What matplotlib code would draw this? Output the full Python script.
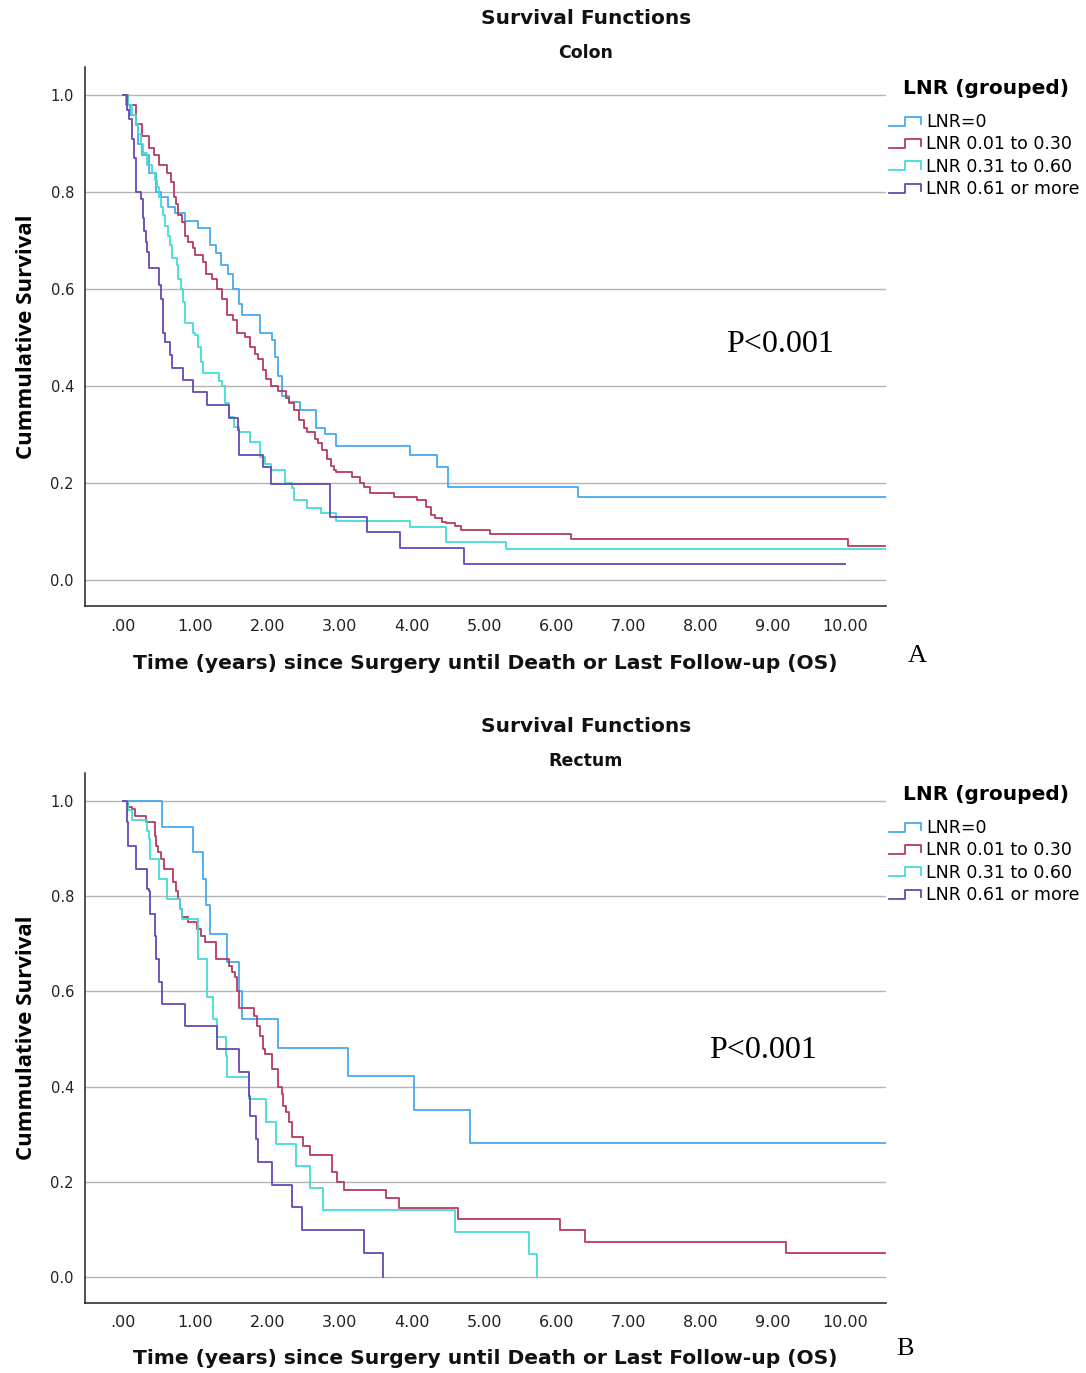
import matplotlib
matplotlib.use('Agg')
import matplotlib.pyplot as plt
from matplotlib.legend_handler import HandlerBase
from matplotlib.lines import Line2D

# ---- data: (time, survival) step points ----
labels = ['LNR=0', 'LNR 0.01 to 0.30', 'LNR 0.31 to 0.60', 'LNR 0.61 or more']
colors = ['#45a9f2', '#b53a62', '#43dcd4', '#6847b4']
xticks = [0, 1, 2, 3, 4, 5, 6, 7, 8, 9, 10]
xtick_labels = ['.00', '1.00', '2.00', '3.00', '4.00', '5.00', '6.00', '7.00', '8.00', '9.00', '10.00']
yticks = [0.0, 0.2, 0.4, 0.6, 0.8, 1.0]

# Colon
colon_t0 = [0, 0.04, 0.1, 0.17, 0.2, 0.26, 0.35, 0.45, 0.52, 0.62, 0.72, 0.86, 1.03, 1.2, 1.28,
            1.35, 1.45, 1.52, 1.6, 1.65, 1.9, 2.06, 2.1, 2.15, 2.2, 2.3, 2.45, 2.67, 2.8, 2.95,
            3.97, 4.35, 4.5, 6.3]
colon_s0 = [1.0, 0.98, 0.96, 0.938, 0.90, 0.876, 0.84, 0.80, 0.79, 0.77, 0.757, 0.74, 0.726, 0.69, 0.675,
            0.65, 0.63, 0.60, 0.57, 0.546, 0.51, 0.495, 0.46, 0.42, 0.38, 0.367, 0.35, 0.313, 0.30, 0.276,
            0.258, 0.233, 0.192, 0.17]
colon_t1 = [0, 0.07, 0.17, 0.26, 0.35, 0.42, 0.5, 0.61, 0.66, 0.7, 0.73, 0.76, 0.82, 0.86, 0.9,
            0.96, 1.0, 1.1, 1.14, 1.23, 1.3, 1.37, 1.44, 1.52, 1.58, 1.68, 1.75, 1.82, 1.87, 1.93,
            1.98, 2.05, 2.15, 2.25, 2.3, 2.36, 2.43, 2.5, 2.55, 2.65, 2.7, 2.76, 2.82, 2.88, 2.92,
            2.95, 3.17, 3.28, 3.33, 3.42, 3.75, 4.07, 4.2, 4.26, 4.32, 4.42, 4.47, 4.6, 4.68, 5.08,
            6.2, 10.04]
colon_s1 = [1.0, 0.98, 0.94, 0.915, 0.89, 0.876, 0.856, 0.84, 0.82, 0.79, 0.775, 0.753, 0.738, 0.71, 0.697,
            0.685, 0.67, 0.655, 0.63, 0.62, 0.60, 0.58, 0.546, 0.536, 0.51, 0.50, 0.48, 0.465, 0.455, 0.433,
            0.415, 0.40, 0.39, 0.375, 0.365, 0.35, 0.33, 0.313, 0.305, 0.29, 0.282, 0.268, 0.25, 0.235, 0.227,
            0.223, 0.212, 0.20, 0.192, 0.18, 0.171, 0.165, 0.15, 0.134, 0.128, 0.12, 0.118, 0.111, 0.103, 0.095,
            0.085, 0.07]
colon_t2 = [0, 0.06, 0.12, 0.17, 0.2, 0.24, 0.27, 0.33, 0.4, 0.44, 0.47, 0.49, 0.52, 0.55, 0.58,
            0.62, 0.65, 0.68, 0.75, 0.76, 0.8, 0.83, 0.86, 0.96, 1.0, 1.04, 1.08, 1.11, 1.32, 1.37,
            1.41, 1.47, 1.53, 1.6, 1.75, 1.9, 1.97, 2.05, 2.24, 2.34, 2.37, 2.55, 2.74, 2.95, 3.97,
            4.47, 5.3]
colon_s2 = [1.0, 0.98, 0.96, 0.94, 0.92, 0.90, 0.88, 0.855, 0.84, 0.825, 0.81, 0.79, 0.77, 0.753, 0.73,
            0.71, 0.69, 0.665, 0.65, 0.62, 0.60, 0.573, 0.53, 0.51, 0.505, 0.48, 0.45, 0.427, 0.41, 0.40,
            0.365, 0.336, 0.315, 0.305, 0.285, 0.254, 0.24, 0.227, 0.20, 0.19, 0.165, 0.148, 0.138, 0.122, 0.109,
            0.078, 0.064]
colon_t3 = [0, 0.05, 0.08, 0.12, 0.15, 0.17, 0.24, 0.27, 0.29, 0.31, 0.33, 0.35, 0.5, 0.52, 0.55,
            0.58, 0.65, 0.68, 0.83, 0.96, 1.16, 1.47, 1.59, 1.61, 1.93, 2.05, 2.87, 3.38, 3.84, 4.72]
colon_s3 = [1.0, 0.97, 0.95, 0.91, 0.87, 0.80, 0.785, 0.746, 0.72, 0.697, 0.676, 0.643, 0.608, 0.58, 0.51,
            0.49, 0.464, 0.437, 0.412, 0.388, 0.36, 0.334, 0.309, 0.258, 0.233, 0.198, 0.13, 0.099, 0.066, 0.033]
colon_end = [10.57, 10.57, 10.57, 10.0]

# Rectum
rect_t0 = [0, 0.54, 0.97, 1.11, 1.14, 1.2, 1.44, 1.6, 1.65, 2.14, 3.11, 4.03, 4.81]
rect_s0 = [1.0, 0.945, 0.893, 0.836, 0.78, 0.72, 0.662, 0.60, 0.542, 0.482, 0.422, 0.351, 0.281]
rect_t1 = [0, 0.07, 0.12, 0.16, 0.32, 0.44, 0.46, 0.48, 0.52, 0.57, 0.69, 0.73, 0.76, 0.79, 0.82,
           0.9, 1.02, 1.08, 1.13, 1.29, 1.46, 1.51, 1.55, 1.57, 1.6, 1.81, 1.85, 1.9, 1.94, 1.97,
           2.06, 2.15, 2.2, 2.22, 2.26, 2.3, 2.34, 2.49, 2.59, 2.89, 2.96, 3.06, 3.64, 3.82, 4.64,
           6.05, 6.4, 9.18]
rect_s1 = [1.0, 0.987, 0.983, 0.968, 0.955, 0.926, 0.905, 0.893, 0.878, 0.857, 0.83, 0.81, 0.794, 0.773, 0.756,
           0.746, 0.73, 0.716, 0.704, 0.668, 0.653, 0.64, 0.63, 0.60, 0.565, 0.548, 0.527, 0.506, 0.479, 0.468,
           0.437, 0.40, 0.384, 0.36, 0.347, 0.326, 0.294, 0.275, 0.256, 0.22, 0.20, 0.183, 0.166, 0.145, 0.122,
           0.099, 0.074, 0.05]
rect_t2 = [0, 0.07, 0.12, 0.33, 0.35, 0.37, 0.49, 0.61, 0.78, 0.82, 1.03, 1.04, 1.16, 1.25, 1.3,
           1.42, 1.44, 1.74, 1.98, 2.12, 2.4, 2.59, 2.77, 4.6, 5.62, 5.73]
rect_s2 = [1.0, 0.98, 0.96, 0.937, 0.92, 0.878, 0.836, 0.794, 0.773, 0.752, 0.71, 0.668, 0.588, 0.542, 0.504,
           0.464, 0.42, 0.374, 0.326, 0.279, 0.233, 0.187, 0.141, 0.095, 0.048, 0.0]
rect_t3 = [0, 0.05, 0.07, 0.17, 0.33, 0.36, 0.37, 0.44, 0.46, 0.49, 0.54, 0.86, 1.3, 1.6, 1.74,
           1.76, 1.84, 1.87, 2.06, 2.34, 2.47, 3.33, 3.6]
rect_s3 = [1.0, 0.955, 0.905, 0.857, 0.815, 0.81, 0.763, 0.716, 0.668, 0.62, 0.573, 0.527, 0.479, 0.43, 0.38,
           0.338, 0.29, 0.241, 0.193, 0.147, 0.099, 0.05, 0.0]
rect_end = [10.57, 10.57, 5.73, 3.6]

colon = [(colon_t0, colon_s0), (colon_t1, colon_s1), (colon_t2, colon_s2), (colon_t3, colon_s3)]
rectum = [(rect_t0, rect_s0), (rect_t1, rect_s1), (rect_t2, rect_s2), (rect_t3, rect_s3)]


class StepHandler(HandlerBase):
    # SPSS style legend glyph: low line, step up, high line, small drop
    def create_artists(self, legend, orig_handle, xdescent, ydescent, width, height, fontsize, trans):
        x0, x1 = -xdescent, -xdescent + width
        xm = x0 + 0.5 * width
        ylo, yhi = -ydescent + 0.1 * height, -ydescent + 0.85 * height
        ln = Line2D([x0, xm, xm, x1, x1], [ylo, ylo, yhi, yhi, ylo + 0.15 * height],
                    color=orig_handle.get_color(), lw=1.3)
        ln.set_transform(trans)
        return [ln]


fig = plt.figure(figsize=(10.86, 13.73), dpi=100)
W, H = 1086.0, 1373.0


def btext(x, y, s, size):
    fig.text(x / W, 1 - y / H, s, ha='center', va='center', fontsize=size, fontweight='bold',
             family='DejaVu Sans', color='#111111')


def panel(rect, data, ends, sub, ytitle, ysub, pxy, letter, letter_xy, xlab_y, leg_y):
    ax = fig.add_axes(rect)
    handles = []
    for (t, s), e, c, lab in zip(data, ends, colors, labels):
        ln, = ax.step(t + [e], s + [s[-1]], where='post', color=c, lw=1.3, label=lab)
        handles.append(ln)
    ax.set_xlim(-0.53, 10.57)
    ax.set_ylim(-0.054, 1.058)
    ax.set_yticks(yticks)
    ax.set_yticklabels(['%.1f' % v for v in yticks], fontsize=10.5, color='#222222')
    ax.set_xticks(xticks)
    ax.set_xticklabels(xtick_labels, fontsize=11.5, color='#222222')
    ax.tick_params(length=0, pad=9)
    ax.tick_params(axis='y', pad=8)
    ax.grid(axis='y', color='#b4b4b4', lw=1.0)
    ax.set_axisbelow(True)
    for sp in ['top', 'right']:
        ax.spines[sp].set_visible(False)
    for sp in ['left', 'bottom']:
        ax.spines[sp].set_color('#222222')
        ax.spines[sp].set_linewidth(1.1)
    ax.set_ylabel('Cummulative Survival', fontsize=16, fontweight='bold', family='Open Sans', labelpad=10)
    btext(485, xlab_y, 'Time (years) since Surgery until Death or Last Follow-up (OS)', 14.6)
    btext(586, ytitle, 'Survival Functions', 14.5)
    btext(586, ysub, sub, 12.5)
    ax.text(pxy[0], pxy[1], 'P<0.001', fontsize=23, family='Liberation Serif', ha='left', va='center')
    fig.text(letter_xy[0] / W, 1 - letter_xy[1] / H, letter, fontsize=19, family='Liberation Serif',
             ha='center', va='center')
    fig.text(903 / W, 1 - (leg_y - 32) / H, 'LNR (grouped)', fontsize=14.5, fontweight='bold',
             ha='left', va='center')
    ax.legend(handles, labels, loc='upper left',
              bbox_to_anchor=(889 / W, 1 - (leg_y - 7) / H), bbox_transform=fig.transFigure,
              frameon=False, fontsize=12.5, handlelength=1.85, handletextpad=0.3,
              labelspacing=0.25, borderaxespad=0, borderpad=0,
              handler_map={Line2D: StepHandler()})
    return ax


panel([0.0783, 0.5586, 0.7376, 0.3926], colon, colon_end, 'Colon',
      18, 53, (8.35, 0.485), 'A', (917, 656), 663, 120)
panel([0.0783, 0.0510, 0.7376, 0.3860], rectum, rect_end, 'Rectum',
      727, 761, (8.12, 0.475), 'B', (905, 1349), 1358, 826)

fig.savefig('out.png', dpi=100)
